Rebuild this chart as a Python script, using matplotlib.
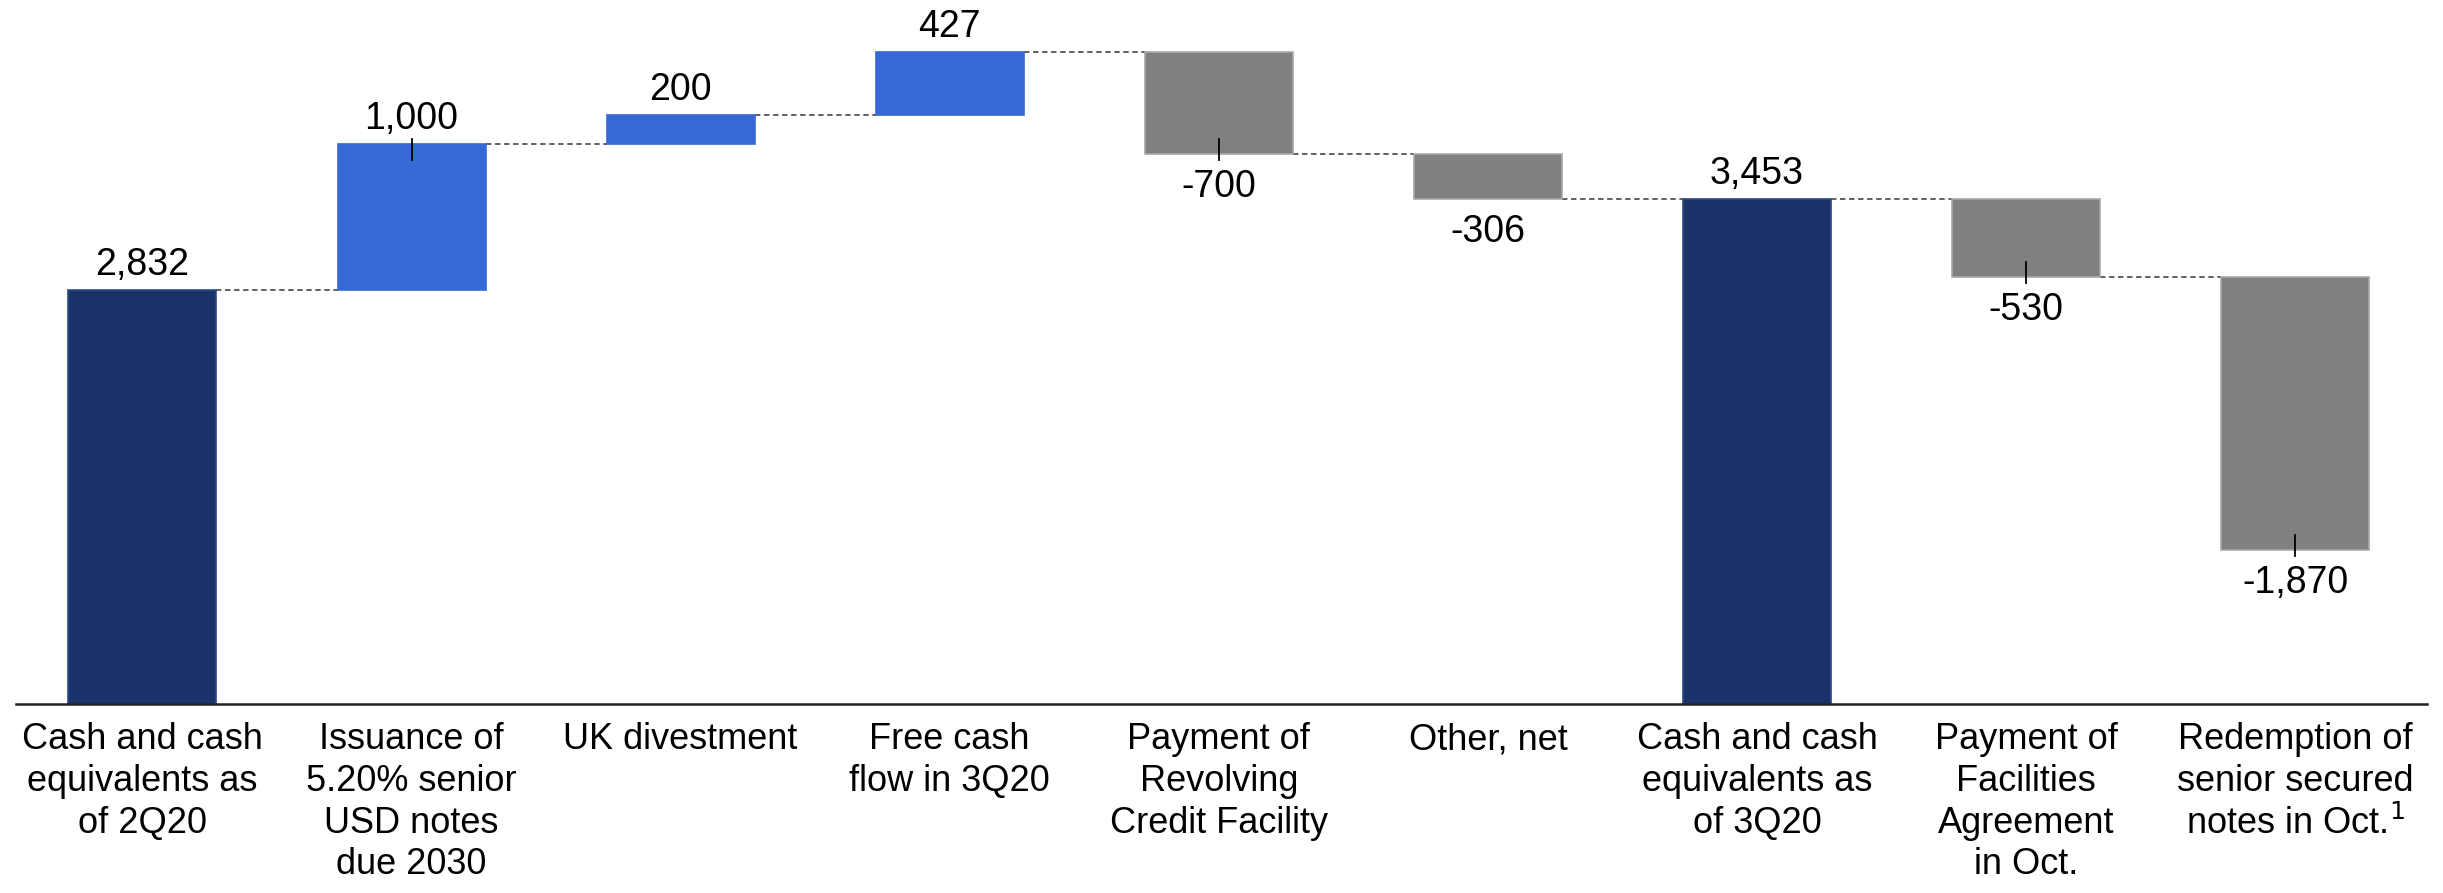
import numpy as np
import matplotlib.pyplot as plt

# Cash bridge 2Q20 -> 3Q20 -> after October repayments (USD m)
categories = [
    'Cash and cash\nequivalents as\nof 2Q20',
    'Issuance of\n5.20% senior\nUSD notes\ndue 2030',
    'UK divestment',
    'Free cash\nflow in 3Q20',
    'Payment of\nRevolving\nCredit Facility',
    'Other, net',
    'Cash and cash\nequivalents as\nof 3Q20',
    'Payment of\nFacilities\nAgreement\nin Oct.',
    'Redemption of\nsenior secured\nnotes in Oct.$^{1}$',
]
values = [2832, 1000, 200, 427, -700, -306, 3453, -530, -1870]
is_total = [True, False, False, False, False, False, True, False, False]
leader = [False, True, False, False, True, False, False, True, True]

NAVY = '#1b3369'
BLUE = '#3669d3'
GREY = '#808080'
FONT = ['Liberation Sans', 'DejaVu Sans']

fig = plt.figure(figsize=(24.43, 8.93), dpi=100)
ax = fig.add_axes([16 / 2443, 1 - 704 / 893, 2411 / 2443, 694 / 893])

x = np.arange(len(values))
bottoms, tops, colors, edges = [], [], [], []
level = 0
for v, tot in zip(values, is_total):
    if tot:
        lo, hi = 0, v
        level = v
        colors.append(NAVY)
        edges.append('#2c4a85')
    else:
        lo, hi = (level, level + v) if v > 0 else (level + v, level)
        level += v
        colors.append(BLUE if v > 0 else GREY)
        edges.append(BLUE if v > 0 else '#a8a8a8')
    bottoms.append(lo)
    tops.append(hi)
bottoms = np.array(bottoms)
tops = np.array(tops)

width = 0.55
ax.bar(x, tops - bottoms, bottom=bottoms, width=width, color=colors,
       edgecolor=edges, linewidth=1.2, zorder=2)

# dashed connectors between consecutive bars
for i in range(len(values) - 1):
    lvl = tops[i] if (is_total[i] or values[i] > 0) else bottoms[i]
    ax.plot([x[i] + width / 2, x[i + 1] - width / 2], [lvl, lvl],
            ls=(0, (3, 2)), color='#555555', lw=1.3, zorder=1)

# value labels
px = 1 / 0.1462  # data units per pixel
for i, v in enumerate(values):
    if is_total[i] or v > 0:
        end = tops[i]
        ax.text(x[i], end + 7 * px, f'{v:,}', ha='center', va='bottom',
                fontsize=27, family=FONT)
        if leader[i]:
            ax.plot([x[i], x[i]], [end + 5 * px, end - 16 * px],
                    color='black', lw=1.3, zorder=3)
    else:
        end = bottoms[i]
        ax.text(x[i], end - 15 * px, f'{v:,}', ha='center', va='top',
                fontsize=27, family=FONT)
        if leader[i]:
            ax.plot([x[i], x[i]], [end - 6 * px, end + 15 * px],
                    color='black', lw=1.3, zorder=3)

ax.set_xlim(-0.47, 8.49)
ax.set_ylim(0, 694 * px)
ax.set_xticks(x)
ax.set_xticklabels(categories, fontsize=26, family=FONT, linespacing=1.25)
ax.tick_params(axis='x', length=0, pad=13)
ax.set_yticks([])
for side in ['top', 'right', 'left']:
    ax.spines[side].set_visible(False)
ax.spines['bottom'].set_linewidth(1.8)
ax.spines['bottom'].set_color('#222222')

fig.savefig('out.png', dpi=100)
